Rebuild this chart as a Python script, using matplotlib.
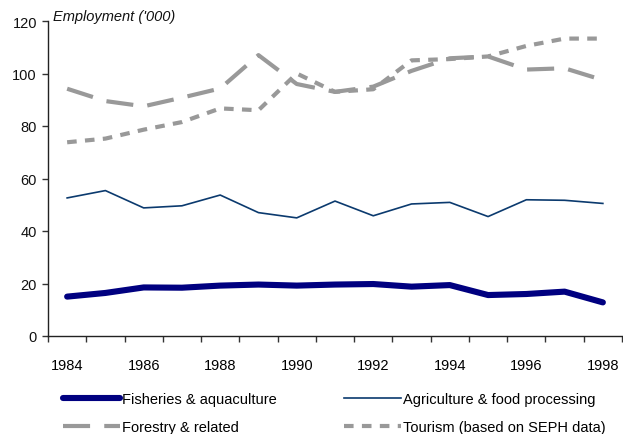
import matplotlib
matplotlib.use('Agg')
import matplotlib.pyplot as plt
from matplotlib.ticker import FixedLocator

plt.rcParams['font.family'] = ['Liberation Sans', 'DejaVu Sans']
plt.rcParams['font.size'] = 10.5

# employment by sector, thousands
years = list(range(1984, 1999))
fisheries = [15.0, 16.4, 18.5, 18.4, 19.2, 19.6, 19.2, 19.6, 19.8, 18.8, 19.4, 15.6, 16.0, 16.9, 12.8]
agriculture = [52.6, 55.4, 48.8, 49.6, 53.7, 47.0, 45.0, 51.4, 45.8, 50.3, 50.9, 45.5, 51.9, 51.7, 50.5]
forestry = [94.2, 89.5, 87.5, 90.8, 94.3, 107.0, 96.0, 93.0, 95.0, 101.0, 105.8, 106.5, 101.5, 102.0, 97.5]
tourism = [73.8, 75.2, 78.6, 81.5, 86.7, 86.0, 100.0, 93.0, 94.0, 105.0, 105.5, 106.5, 110.5, 113.3, 113.3]

fig = plt.figure(figsize=(6.23, 4.35), dpi=100)
ax = fig.add_axes([48/623, 98/435, 574/623, 315/435])

l_fish, = ax.plot(years, fisheries, color='#000080', lw=4.4,
                  solid_capstyle='round', solid_joinstyle='round',
                  label='Fisheries & aquaculture')
l_agri, = ax.plot(years, agriculture, color='#0b3a6e', lw=1.2,
                  label='Agriculture & food processing')
l_for, = ax.plot(years, forestry, color='#999999', lw=3, dashes=(6.5, 3.4),
                 label='Forestry & related')
l_tour, = ax.plot(years, tourism, color='#999999', lw=3, dashes=(2.3, 2.0),
                  label='Tourism (based on SEPH data)')

ax.set_xlim(1983.5, 1998.5)
ax.set_ylim(0, 120)
ax.set_yticks(range(0, 121, 20))

# tick marks sit between categories, labels on every other year
ax.xaxis.set_major_locator(FixedLocator([y - 0.5 for y in years] + [1998.5]))
ax.xaxis.set_major_formatter(plt.NullFormatter())
ax.xaxis.set_minor_locator(FixedLocator(years[::2]))
ax.set_xticklabels([str(y) for y in years[::2]], minor=True)
ax.tick_params(axis='x', which='major', length=4, width=1, color='#333333')
ax.tick_params(axis='x', which='minor', length=0, pad=16)
ax.tick_params(axis='y', length=4, width=1, color='#333333', pad=4)
ax.tick_params(labelcolor='#111111', labelsize=10.5)

for s in ['top', 'right']:
    ax.spines[s].set_visible(False)
for s in ['left', 'bottom']:
    ax.spines[s].set_color('#222222')
    ax.spines[s].set_linewidth(1)

fig.text(53/623, 1 - 17/435, "Employment ('000)", style='italic',
         fontsize=10.5, va='center', ha='left', color='#111111')

fig.legend(handles=[l_fish, l_for, l_agri, l_tour], ncol=2,
           loc='upper left', bbox_to_anchor=(63/623, 1 - 393/435),
           frameon=False, handlelength=3.9, handletextpad=0.15,
           columnspacing=4.6, labelspacing=0.97, borderpad=0,
           borderaxespad=0)

fig.savefig('out.png', dpi=100)
